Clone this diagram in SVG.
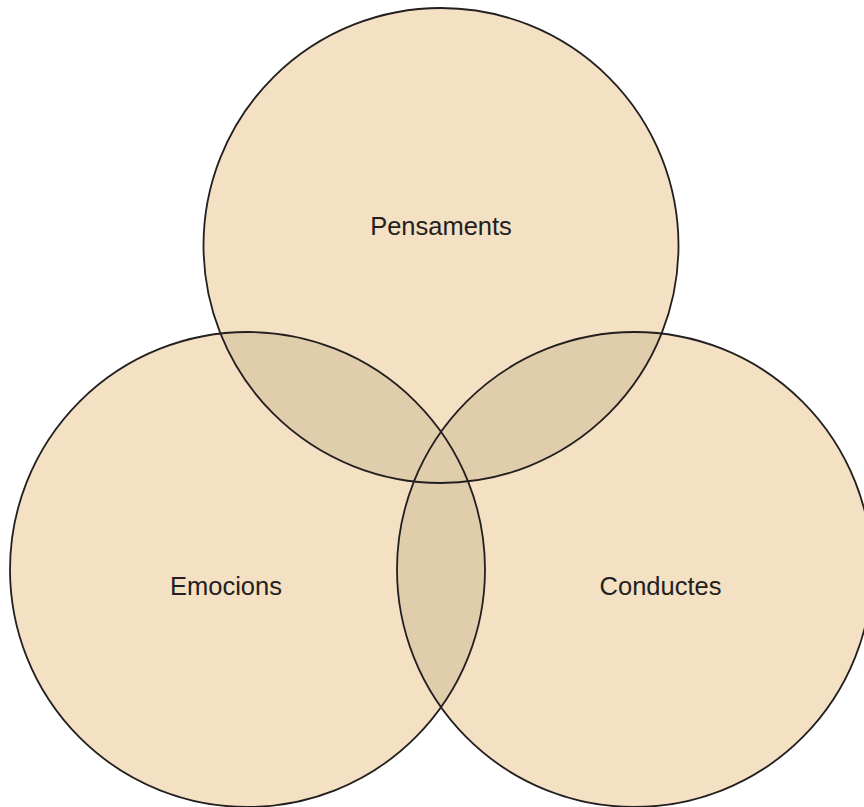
<svg xmlns="http://www.w3.org/2000/svg" width="864" height="807" viewBox="0 0 864 807">
<style>
.fill{fill:#F4E0C2;stroke:none}
.ov{fill:#E0CDAC;stroke:none}
.ring{fill:none;stroke:#231F20;stroke-width:1.8}
.lbl{font-family:"Liberation Sans",Arial,sans-serif;font-size:25.5px;fill:#231F20;text-anchor:middle}
</style>
<defs>
<clipPath id="cT"><circle cx="441" cy="245.5" r="237.5"/></clipPath>
<clipPath id="cL"><circle cx="247.5" cy="569.5" r="237.5"/></clipPath>
<clipPath id="cR"><circle cx="634.5" cy="569.5" r="237.5"/></clipPath>
</defs>
<rect width="864" height="807" fill="#FFFFFF"/>
<g id="fills">
<circle class="fill" cx="441" cy="245.5" r="237.5"/>
<circle class="fill" cx="247.5" cy="569.5" r="237.5"/>
<circle class="fill" cx="634.5" cy="569.5" r="237.5"/>
</g>
<g id="overlaps">
<circle class="ov" cx="247.5" cy="569.5" r="237.5" clip-path="url(#cT)"/>
<circle class="ov" cx="634.5" cy="569.5" r="237.5" clip-path="url(#cT)"/>
<circle class="ov" cx="634.5" cy="569.5" r="237.5" clip-path="url(#cL)"/>
</g>
<g id="pensaments">
<circle class="ring" cx="441" cy="245.5" r="237.5"/>
<text class="lbl" x="441" y="235">Pensaments</text>
</g>
<g id="emocions">
<circle class="ring" cx="247.5" cy="569.5" r="237.5"/>
<text class="lbl" x="226" y="595">Emocions</text>
</g>
<g id="conductes">
<circle class="ring" cx="634.5" cy="569.5" r="237.5"/>
<text class="lbl" x="660.5" y="595">Conductes</text>
</g>
</svg>
